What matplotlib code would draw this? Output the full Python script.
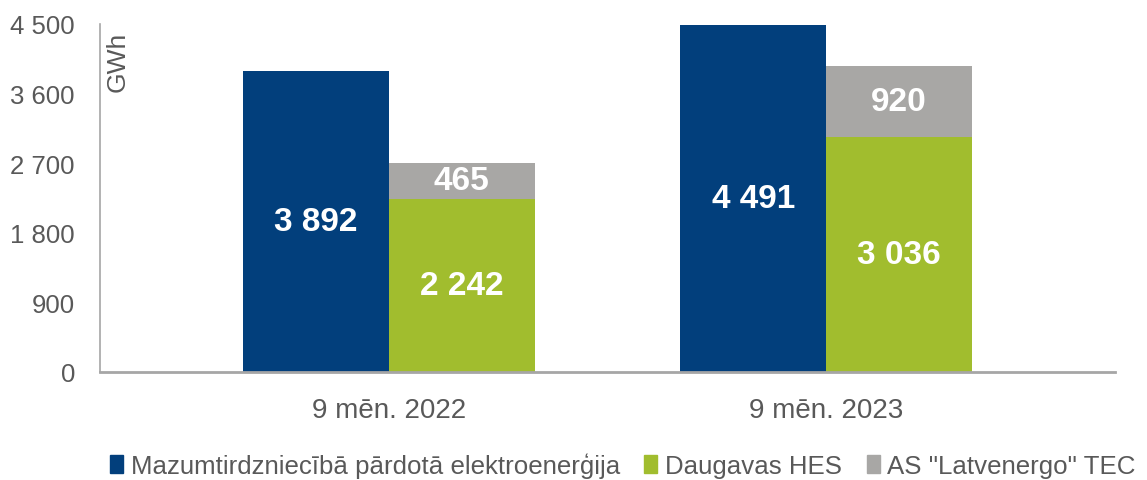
import numpy as np
import matplotlib.pyplot as plt
from matplotlib.patches import Patch
from matplotlib.ticker import FuncFormatter

plt.rcParams['font.family'] = ['Liberation Sans', 'DejaVu Sans']

categories = ["9 mēn. 2022", "9 mēn. 2023"]
retail = [3892, 4491]
hes = [2242, 3036]
tec = [465, 920]
series_names = ["Mazumtirdzniecībā pārdotā elektroenerģija", "Daugavas HES", 'AS "Latvenergo" TEC']

c_blue = "#023F7C"
c_green = "#A1BD2E"
c_grey = "#A8A7A5"
c_text = "#595959"
c_axis = "#A6A6A6"


def fmt(v):
    return f"{int(v):,}".replace(",", " ")


fig = plt.figure(figsize=(11.47, 4.81), dpi=100)
ax = fig.add_axes([100 / 1147, 1 - 373 / 481, 1015 / 1147, 348 / 481])

x = np.arange(len(categories))
w = 0.333
b1 = ax.bar(x - w / 2, retail, w, color=c_blue)
b2 = ax.bar(x + w / 2, hes, w, color=c_green)
b3 = ax.bar(x + w / 2, tec, w, bottom=hes, color=c_grey)

for bars, vals, bottoms in [(b1, retail, [0, 0]), (b2, hes, [0, 0]), (b3, tec, hes)]:
    for r, v, b in zip(bars, vals, bottoms):
        ax.text(r.get_x() + r.get_width() / 2, b + v / 2, fmt(v), ha="center", va="center",
                color="white", fontsize=24, fontweight="bold")

ax.set_xlim(-0.661, 1.661)
ax.set_ylim(0, 4500)
ax.set_yticks(np.arange(0, 4501, 900))
ax.yaxis.set_major_formatter(FuncFormatter(lambda v, p: fmt(v)))
ax.set_xticks(x)
ax.set_xticklabels(categories)
ax.tick_params(axis="both", length=0, colors=c_text)
ax.tick_params(axis="y", pad=18, labelsize=18.5)
ax.tick_params(axis="x", pad=18, labelsize=20)
for s in ["top", "right"]:
    ax.spines[s].set_visible(False)
for s in ["left", "bottom"]:
    ax.spines[s].set_color(c_axis)
ax.spines["bottom"].set_linewidth(2)
ax.spines["left"].set_linewidth(1.2)

fig.text(118 / 1147, 1 - 62 / 481, "GWh", rotation=90, ha="center", va="center",
         color=c_text, fontsize=19)

handles = [Patch(color=c) for c in [c_blue, c_green, c_grey]]
fig.legend(handles, series_names, loc="center", bbox_to_anchor=(0.543, 1 - 466 / 481),
           ncol=3, frameon=False, fontsize=18.6, handlelength=0.5, handleheight=0.7,
           handletextpad=0.3, columnspacing=0.95, labelcolor=c_text, borderaxespad=0)

fig.savefig("out.png", dpi=100)
